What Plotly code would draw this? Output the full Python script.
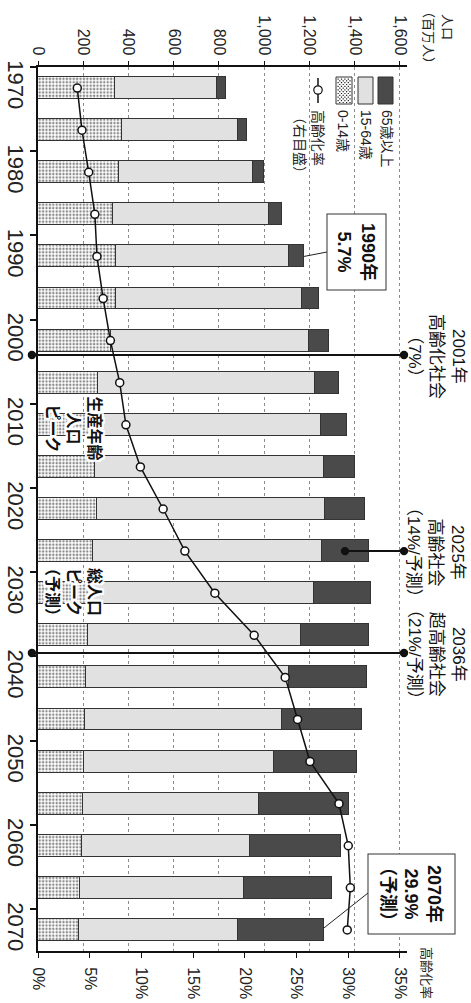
import plotly.graph_objects as go

# ---------------- data ----------------
years = [1970, 1975, 1980, 1985, 1990, 1995, 2000, 2005, 2010, 2015, 2020,
         2025, 2030, 2035, 2040, 2045, 2050, 2055, 2060, 2065, 2070]
pop_0_14 = [340, 371, 359, 333, 343, 343, 321, 267, 252, 252, 259,
            245, 235, 220, 211, 206, 202, 198, 193, 184, 180]
pop_15_64 = [453, 514, 593, 687, 768, 822, 877, 957, 997, 1014, 1010,
             1012, 985, 941, 900, 872, 841, 780, 744, 725, 705]
pop_65 = [36, 39, 47, 57, 65, 78, 88, 105, 115, 134, 176,
          207, 251, 303, 345, 356, 367, 395, 401, 392, 379]
aging_rate = [3.8, 4.25, 4.9, 5.5, 5.7, 6.3, 7.0, 7.9, 8.5, 9.9, 12.1,
              14.2, 17.1, 20.9, 23.9, 25.1, 26.3, 29.1, 30.0, 30.2, 29.9]

pop_ticks = [0, 200, 400, 600, 800, 1000, 1200, 1400, 1600]
pct_ticks = [0, 5, 10, 15, 20, 25, 30, 35]
pct_labels = ["0%", "5%", "10%", "15%", "20%", "25%", "30%", "35%"]
year_ticks = [1970, 1980, 1990, 2000, 2010, 2020, 2030, 2040, 2050, 2060, 2070]

series_names = ["0-14歳", "15-64歳", "65歳以上"]

# ---------------- layout helpers ----------------
W, H = 471, 1003
L, R, T, B = 38, 407, 67, 951
Y0, Y1 = 1967.5, 2072.5          # year axis range (reversed)
POP_MAX = 1631
PCT_MAX = 35 * POP_MAX / 1600

FONT = "Liberation Sans, Noto Sans CJK JP, sans-serif"
DARK = "#4a4a4a"
LIGHT = "#e1e1e1"
EDGE = "#333333"


def px(xp):
    return (xp - L) / (R - L)


def py(yp):
    return (B - yp) / (B - T)


def ypix(year):
    return T + (year - Y0) * (B - T) / (Y1 - Y0)


def xpix(pop):
    return L + pop * (R - L) / POP_MAX


fig = go.Figure()

fig.add_trace(go.Bar(
    y=years, x=pop_0_14, orientation="h", name=series_names[0], width=2.6,
    marker=dict(color="white", line=dict(color=EDGE, width=1),
                pattern=dict(shape=".", fgcolor="#1a1a1a", bgcolor="white",
                             size=3.4, solidity=0.42)),
))
fig.add_trace(go.Bar(
    y=years, x=pop_15_64, orientation="h", name=series_names[1], width=2.6,
    marker=dict(color=LIGHT, line=dict(color=EDGE, width=1)),
))
fig.add_trace(go.Bar(
    y=years, x=pop_65, orientation="h", name=series_names[2], width=2.6,
    marker=dict(color=DARK, line=dict(color=EDGE, width=1)),
))
fig.add_trace(go.Scatter(
    y=years, x=aging_rate, xaxis="x2", yaxis="y", mode="lines+markers",
    name="高齢化率", line=dict(color="#111111", width=1.5),
    marker=dict(symbol="circle", size=8, color="white",
                line=dict(color="#111111", width=1.5)),
))

shapes = []
annotations = []

# ---- event lines with dots ----
def dot(xp, yp, r=3.6, fill="#111111"):
    shapes.append(dict(type="circle", xref="paper", yref="paper",
                       xsizemode="pixel", ysizemode="pixel",
                       xanchor=px(xp), yanchor=py(yp),
                       x0=-r, x1=r, y0=-r, y1=r,
                       fillcolor=fill, line=dict(color="#111111", width=1.2)))


def hline(x0p, x1p, yp):
    shapes.append(dict(type="line", xref="paper", yref="paper",
                       x0=px(x0p), x1=px(x1p), y0=py(yp), y1=py(yp),
                       line=dict(color="#111111", width=2)))
    dot(x0p, yp)
    dot(x1p, yp)


events = [
    (2001.7, -27, "2001年<br>高齢化社会<br>（7%）"),
    (2025.0, 1357, "2025年<br>高齢社会<br>（14%/予測）"),
    (2037.1, -27, "2036年<br>超高齢社会<br>（21%/予測）"),
]
for yr, start_pop, txt in events:
    yp = ypix(yr)
    hline(xpix(start_pop), 404, yp)
    annotations.append(dict(
        x=px(436), y=py(yp + 1), xref="paper", yref="paper", text=txt,
        textangle=90, showarrow=False, xanchor="center", yanchor="middle",
        align="center", font=dict(size=17, color="#111111", family=FONT)))

# ---- callout boxes ----
def connector(x0p, y0p, x1p, y1p):
    shapes.append(dict(type="line", xref="paper", yref="paper",
                       x0=px(x0p), x1=px(x1p), y0=py(y0p), y1=py(y1p),
                       line=dict(color="#222222", width=1)))

i1990 = years.index(1990)
i2070 = years.index(2070)
tot1990 = pop_0_14[i1990] + pop_15_64[i1990] + pop_65[i1990]
tot2070 = pop_0_14[i2070] + pop_15_64[i2070] + pop_65[i2070]
connector(xpix(tot1990), ypix(1990), 327, 252)
connector(xpix(tot2070), ypix(2070) - 2, 368, 893)

annotations.append(dict(
    x=px(357), y=py(251.5), xref="paper", yref="paper",
    text="<b>1990年<br>5.7%</b>", textangle=90, showarrow=False,
    xanchor="center", yanchor="middle", align="center",
    width=71, height=54, bgcolor="white", bordercolor="#333333",
    borderwidth=1, borderpad=2,
    font=dict(size=18, color="#111111", family=FONT)))
annotations.append(dict(
    x=px(412), y=py(893.5), xref="paper", yref="paper",
    text="<b>2070年<br>29.9%<br>（予測）</b>", textangle=90, showarrow=False,
    xanchor="center", yanchor="middle", align="center",
    width=75, height=82, bgcolor="white", bordercolor="#333333",
    borderwidth=1, borderpad=2,
    font=dict(size=18, color="#111111", family=FONT)))

# ---- labels inside bars ----
halo = ("2px 0 0 white, -2px 0 0 white, 0 2px 0 white, 0 -2px 0 white, "
        "2px 2px 0 white, -2px -2px 0 white, 2px -2px 0 white, -2px 2px 0 white")
for yp, xp, txt in [(428, 73.5, "<b>生産年齢<br>人口<br>ピーク</b>"),
                    (592, 74, "<b>総人口<br>ピーク<br>（予測）</b>")]:
    annotations.append(dict(
        x=px(xp), y=py(yp), xref="paper", yref="paper", text=txt,
        textangle=90, showarrow=False, xanchor="center", yanchor="middle",
        align="center",
        font=dict(size=16, color="#111111", family=FONT, shadow=halo)))

# ---- custom legend ----
def rect(x0p, x1p, y0p, y1p, fill):
    shapes.append(dict(type="rect", xref="paper", yref="paper",
                       x0=px(x0p), x1=px(x1p), y0=py(y0p), y1=py(y1p),
                       fillcolor=fill, line=dict(color=EDGE, width=1)))

rect(378, 393, 77, 104, DARK)
rect(358, 373, 77, 104, LIGHT)
rect(336, 352, 77, 104, "white")
# stipple for the pattern swatch
parts = []
row = 0
yy = 78.5
while yy < 103:
    xx = 337.5 + (1.7 if row % 2 else 0)
    while xx < 351:
        parts.append("M{:.5f},{:.5f}L{:.5f},{:.5f}L{:.5f},{:.5f}L{:.5f},{:.5f}Z".format(
            px(xx), py(yy), px(xx + 1.2), py(yy), px(xx + 1.2), py(yy + 1.2),
            px(xx), py(yy + 1.2)))
        xx += 3.4
    yy += 1.8
    row += 1
shapes.append(dict(type="path", xref="paper", yref="paper", path="".join(parts),
                   fillcolor="#222222", line=dict(width=0)))
# line + marker swatch
shapes.append(dict(type="line", xref="paper", yref="paper",
                   x0=px(318), x1=px(318), y0=py(78), y1=py(103),
                   line=dict(color="#111111", width=1.5)))
dot(318, 90, r=4.2, fill="white")

legend_items = [(387, "65歳以上"), (366, "15-64歳"), (343, "0-14歳")]
for xp, txt in legend_items:
    annotations.append(dict(
        x=px(xp), y=py(108), xref="paper", yref="paper", text=txt,
        textangle=90, showarrow=False, xanchor="center", yanchor="top",
        font=dict(size=14, color="#222222", family=FONT)))
annotations.append(dict(
    x=px(309), y=py(108), xref="paper", yref="paper",
    text="高齢化率<br>（右目盛）", textangle=90, showarrow=False,
    xanchor="center", yanchor="top", align="left",
    font=dict(size=14, color="#222222", family=FONT)))

# ---- axis titles ----
annotations.append(dict(
    x=px(447), y=py(27), xref="paper", yref="paper", text="人口",
    textangle=90, showarrow=False, xanchor="center", yanchor="middle",
    font=dict(size=13, color="#222222", family=FONT)))
annotations.append(dict(
    x=px(428), y=py(37), xref="paper", yref="paper", text="（百万人）",
    textangle=90, showarrow=False, xanchor="center", yanchor="middle",
    font=dict(size=13, color="#222222", family=FONT)))
annotations.append(dict(
    x=px(426), y=py(973), xref="paper", yref="paper", text="高齢化率",
    textangle=90, showarrow=False, xanchor="center", yanchor="middle",
    font=dict(size=13, color="#222222", family=FONT)))

fig.update_layout(
    width=W, height=H,
    margin=dict(l=L, r=W - R, t=T, b=H - B, pad=0, autoexpand=False),
    paper_bgcolor="white", plot_bgcolor="white",
    barmode="stack", bargap=0,
    showlegend=False,
    font=dict(family=FONT, color="#222222"),
    shapes=shapes, annotations=annotations,
    xaxis=dict(
        side="top", range=[0, POP_MAX], tickvals=pop_ticks, tickformat=",",
        tickangle=90, ticks="outside", ticklen=4, tickcolor="#111111",
        tickfont=dict(size=16, family=FONT, color="#222222"),
        showline=True, linecolor="#111111", linewidth=2,
        showgrid=True, gridcolor="#8c8c8c", griddash="dot", gridwidth=1,
        zeroline=False, automargin=False,
    ),
    xaxis2=dict(
        side="bottom", overlaying="x", range=[0, PCT_MAX],
        tickmode="array", tickvals=pct_ticks, ticktext=pct_labels,
        tickangle=90, ticks="outside", ticklen=5,
        tickcolor="#111111", ticklabelstandoff=6,
        tickfont=dict(size=16, family=FONT, color="#222222"),
        showline=True, linecolor="#111111", linewidth=2,
        showgrid=False, zeroline=False, automargin=False,
    ),
    yaxis=dict(
        range=[Y1, Y0], tickvals=year_ticks, tickangle=90,
        ticks="outside", ticklen=2, tickcolor="rgba(0,0,0,0)",
        tickfont=dict(size=22, family=FONT, color="#222222"),
        minor=dict(tickmode="linear", tick0=Y0, dtick=10, ticks="outside",
                   ticklen=6, tickcolor="#111111", tickwidth=1.5, showgrid=False),
        showline=True, linecolor="#111111", linewidth=2,
        showgrid=False, zeroline=False, automargin=False,
    ),
)

fig.write_html(
    "out.html",
    config={"displayModeBar": False},
    post_script="document.body.style.margin='0';document.body.style.padding='0';",
)
